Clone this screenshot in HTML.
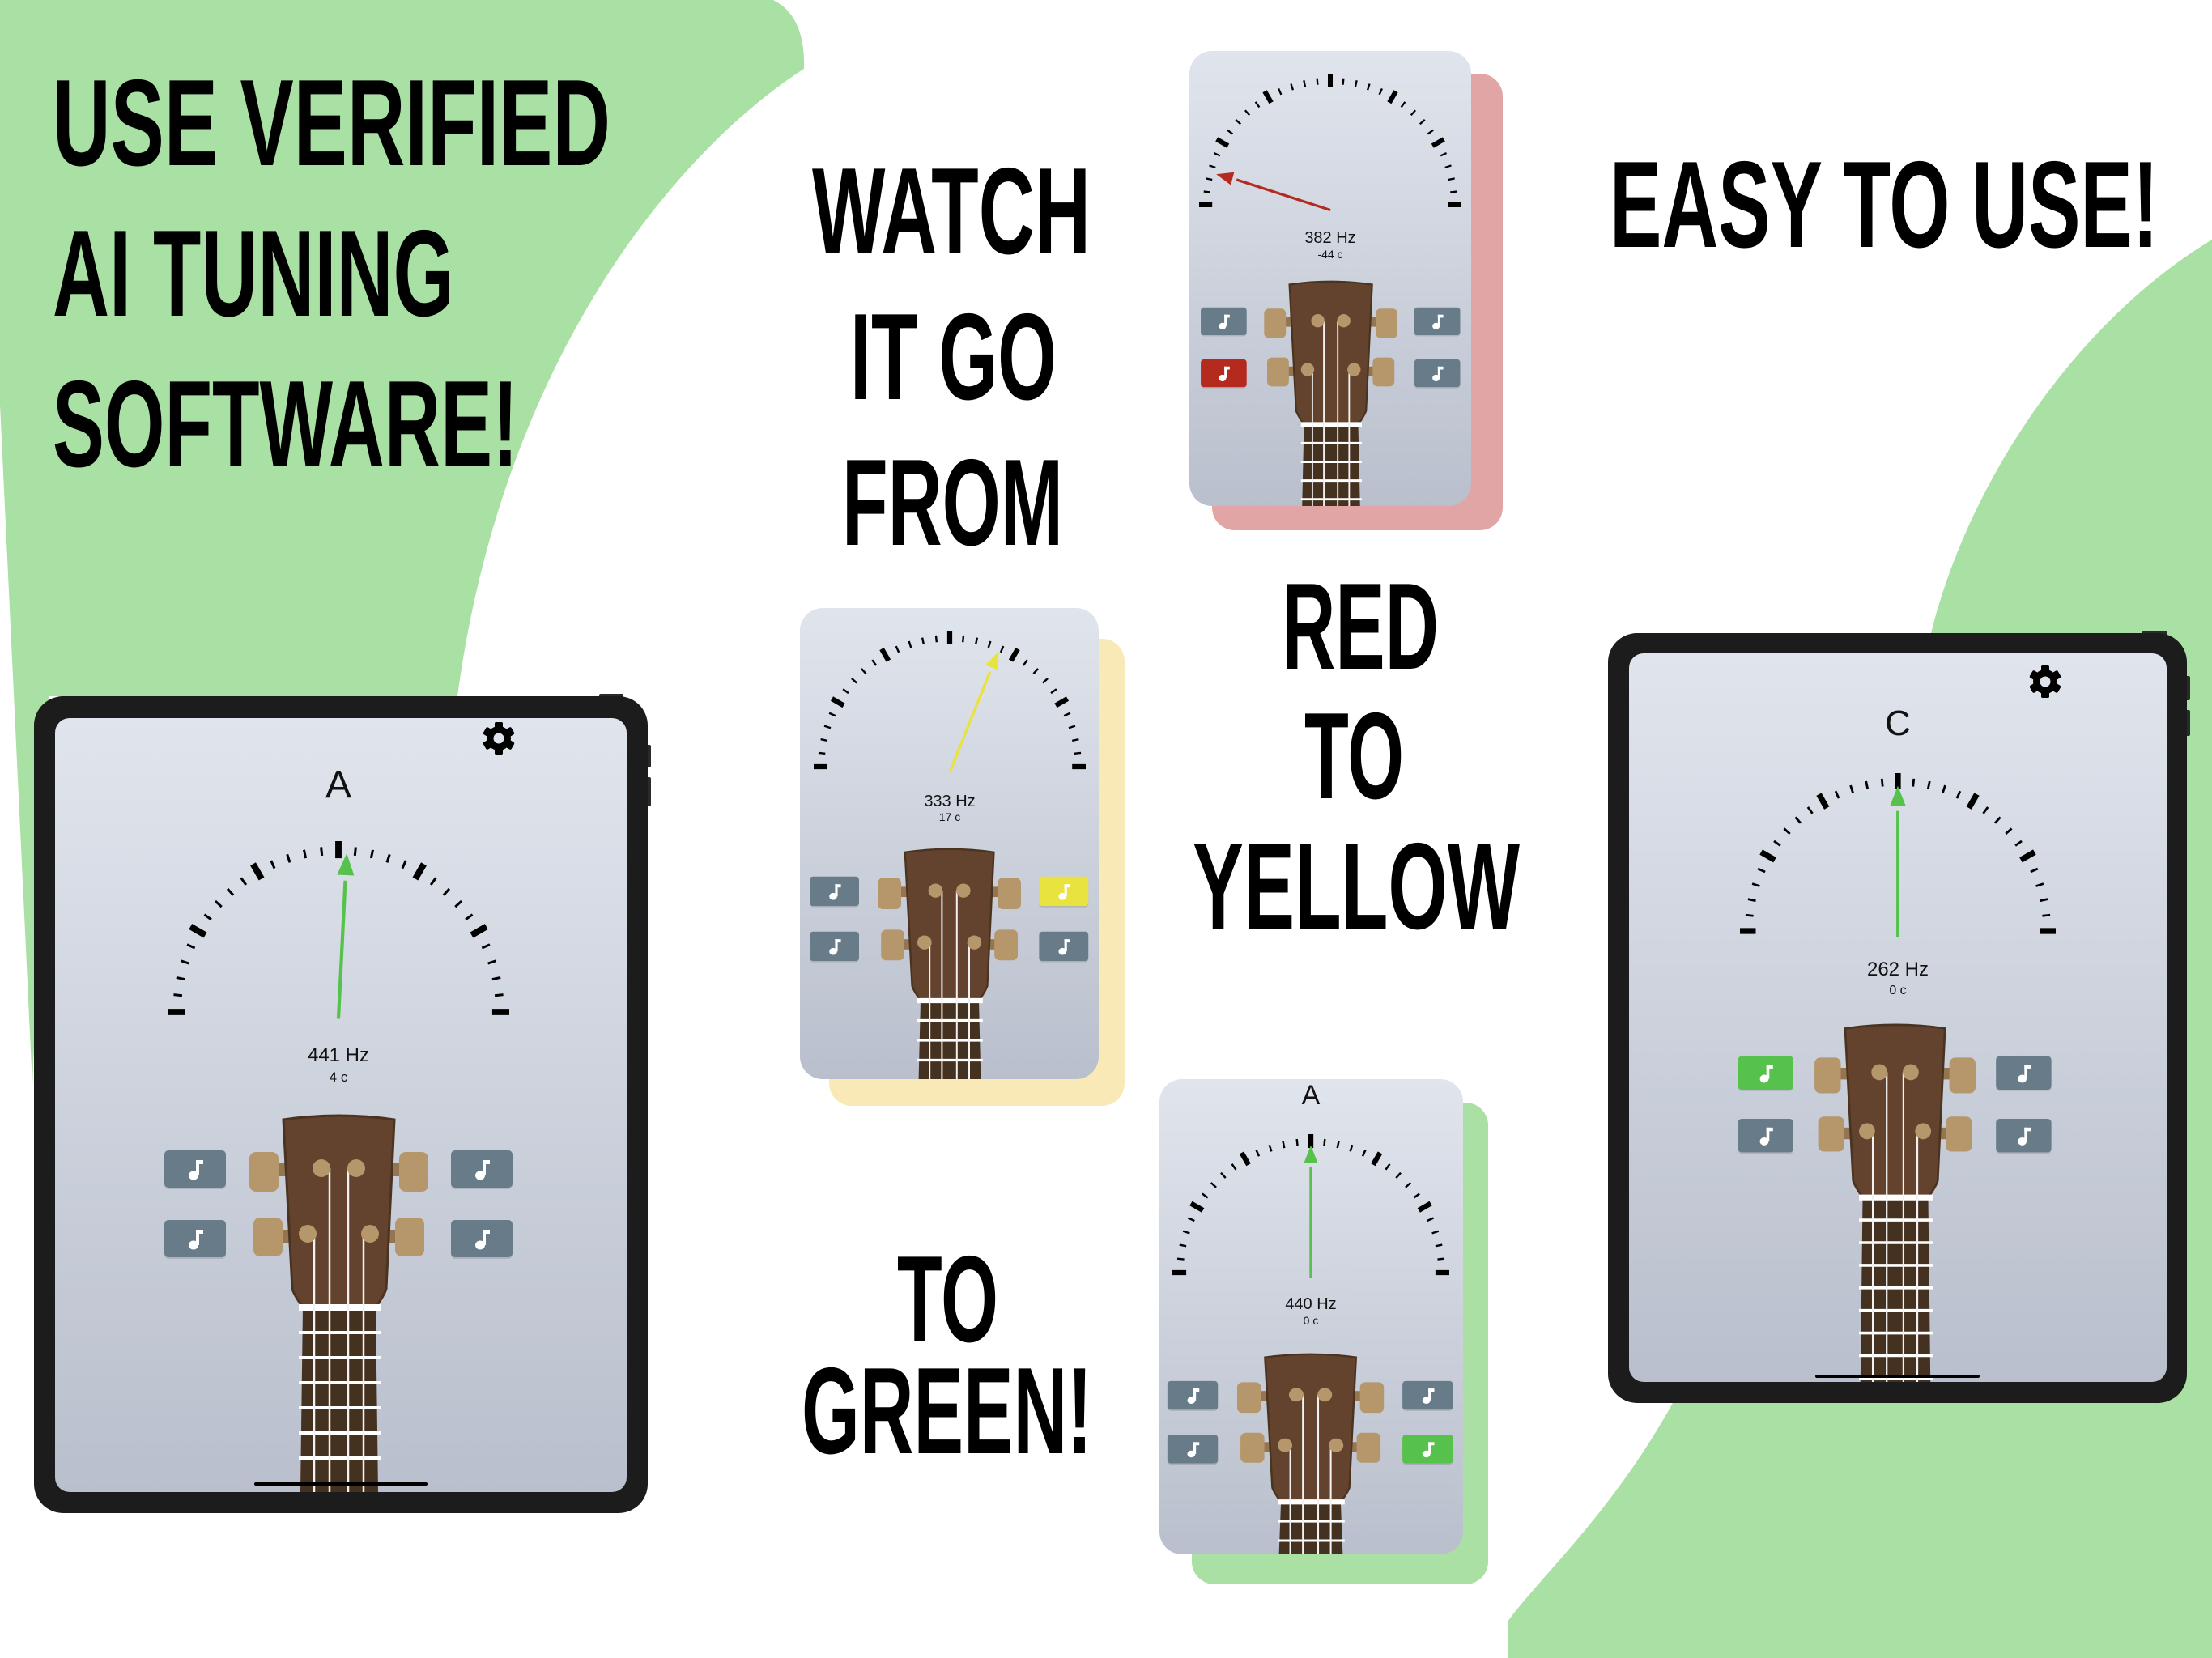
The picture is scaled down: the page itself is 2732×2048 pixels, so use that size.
<!DOCTYPE html>
<html><head><meta charset="utf-8">
<style>
html,body{margin:0;padding:0;background:#fff;width:2732px;height:2048px;overflow:hidden;}
svg{display:block;}
.big{font-family:"Liberation Sans",sans-serif;font-weight:bold;font-size:152px;fill:#000;}
.hz{font-family:"Liberation Sans",sans-serif;fill:#111;text-anchor:middle;}
</style></head>
<body>
<svg id="s" xmlns="http://www.w3.org/2000/svg" width="2732" height="2048" viewBox="0 0 2732 2048">
<defs>
<linearGradient id="scr" x1="0" y1="0" x2="0" y2="1">
<stop offset="0" stop-color="#e0e5ed"/><stop offset="1" stop-color="#b9bfcc"/>
</linearGradient>
<clipPath id="c1"><rect x="68" y="887" width="706" height="956" rx="18"/></clipPath>
<clipPath id="c2"><rect x="2012" y="807" width="664" height="900" rx="18"/></clipPath>
<clipPath id="c3"><rect x="1469" y="63" width="348" height="562" rx="28"/></clipPath>
<clipPath id="c4"><rect x="988" y="751" width="369" height="582" rx="28"/></clipPath>
<clipPath id="c5"><rect x="1432" y="1333" width="375" height="587" rx="28"/></clipPath>
</defs>

<path d="M0,0 L955,0 Q995,20 993,85 C830,190 620,450 565,860 L60,860 L40,1340 L0,500 Z" fill="#a9e0a3"/>
<path d="M2732,296 C2560,400 2430,600 2385,782 L2385,1733 L2066,1733 C1990,1870 1900,1950 1862,2003 L1862,2048 L2732,2048 Z" fill="#a9e0a3"/>

<text class="big" x="65" y="204" textLength="689" lengthAdjust="spacingAndGlyphs">USE VERIFIED</text>
<text class="big" x="65" y="390" textLength="496" lengthAdjust="spacingAndGlyphs">AI TUNING</text>
<text class="big" x="65" y="576" textLength="575" lengthAdjust="spacingAndGlyphs">SOFTWARE!</text>
<text class="big" x="1003" y="313" textLength="344" lengthAdjust="spacingAndGlyphs">WATCH</text>
<text class="big" x="1050" y="493" textLength="255" lengthAdjust="spacingAndGlyphs">IT GO</text>
<text class="big" x="1040" y="673" textLength="273" lengthAdjust="spacingAndGlyphs">FROM</text>
<text class="big" x="1988" y="305" textLength="678" lengthAdjust="spacingAndGlyphs">EASY TO USE!</text>
<text class="big" x="1583" y="826" textLength="194" lengthAdjust="spacingAndGlyphs">RED</text>
<text class="big" x="1611" y="986" textLength="123" lengthAdjust="spacingAndGlyphs">TO</text>
<text class="big" x="1473" y="1147" textLength="404" lengthAdjust="spacingAndGlyphs">YELLOW</text>
<text class="big" x="1108" y="1657" textLength="125" lengthAdjust="spacingAndGlyphs">TO</text>
<text class="big" x="990" y="1795" textLength="359" lengthAdjust="spacingAndGlyphs">GREEN!</text>

<rect x="1497" y="91" width="359" height="564" rx="28" fill="#e2a5a5"/>
<rect x="1024" y="789" width="365" height="577" rx="28" fill="#f8e9b7"/>
<rect x="1472" y="1362" width="366" height="595" rx="28" fill="#abe0a4"/>

<rect x="740" y="857" width="30" height="8" rx="2" fill="#2a2a2a"/>
<rect x="796" y="920" width="8" height="28" rx="2" fill="#2a2a2a"/>
<rect x="796" y="960" width="8" height="36" rx="2" fill="#2a2a2a"/>
<rect x="42" y="860" width="758" height="1009" rx="36" fill="#1c1c1c"/>
<rect x="68" y="887" width="706" height="956" rx="18" fill="url(#scr)"/>
<g id="g1" clip-path="url(#c1)"></g>
<text x="418" y="985" class="hz" font-size="48">A</text>
<g id="gear1"></g>
<text x="418" y="1311" class="hz" font-size="24">441 Hz</text>
<text x="418" y="1336" class="hz" font-size="17">4 c</text>
<rect x="314" y="1831" width="214" height="4" rx="2" fill="#000"/>

<rect x="2646" y="779" width="30" height="8" rx="2" fill="#2a2a2a"/>
<rect x="2697" y="835" width="8" height="30" rx="2" fill="#2a2a2a"/>
<rect x="2697" y="877" width="8" height="32" rx="2" fill="#2a2a2a"/>
<rect x="1986" y="782" width="715" height="951" rx="36" fill="#1c1c1c"/>
<rect x="2012" y="807" width="664" height="900" rx="18" fill="url(#scr)"/>
<g id="g2" clip-path="url(#c2)"></g>
<text x="2344" y="908" class="hz" font-size="44">C</text>
<g id="gear2"></g>
<text x="2344" y="1205" class="hz" font-size="24">262 Hz</text>
<text x="2344" y="1228" class="hz" font-size="16">0 c</text>
<rect x="2242" y="1698" width="203" height="4" rx="2" fill="#000"/>

<rect x="1469" y="63" width="348" height="562" rx="28" fill="url(#scr)"/>
<g id="g3" clip-path="url(#c3)"></g>
<text x="1643" y="300" class="hz" font-size="20">382 Hz</text>
<text x="1643" y="319" class="hz" font-size="14">-44 c</text>

<rect x="988" y="751" width="369" height="582" rx="28" fill="url(#scr)"/>
<g id="g4" clip-path="url(#c4)"></g>
<text x="1173" y="996" class="hz" font-size="20">333 Hz</text>
<text x="1173" y="1014" class="hz" font-size="14">17 c</text>

<rect x="1432" y="1333" width="375" height="587" rx="28" fill="url(#scr)"/>
<g id="g5" clip-path="url(#c5)"></g>
<text x="1619" y="1364" class="hz" font-size="34">A</text>
<text x="1619" y="1617" class="hz" font-size="20">440 Hz</text>
<text x="1619" y="1636" class="hz" font-size="14">0 c</text>
</svg>
<script>
var NS="http://www.w3.org/2000/svg";
function el(p,t,a){var e=document.createElementNS(NS,t);for(var k in a)e.setAttribute(k,a[k]);p.appendChild(e);return e;}
function gauge(p,cx,cy,R,ang,col,len){
  var sw=R/70;
  for(var i=-15;i<=15;i++){
    var a=i*6*Math.PI/180, maj=(i%5==0);
    var r1=maj?R*0.9:R*0.92, r2=maj?R:R*0.97;
    el(p,"line",{x1:cx+r1*Math.sin(a),y1:cy-r1*Math.cos(a),x2:cx+r2*Math.sin(a),y2:cy-r2*Math.cos(a),stroke:"#000","stroke-width":maj?sw*2.6:sw});
  }
  var a=ang*Math.PI/180, L=len*R, tx=cx+L*Math.sin(a), ty=cy-L*Math.cos(a);
  var h=R*0.16,w=R*0.05, bx=tx-h*Math.sin(a), by=ty+h*Math.cos(a);
  el(p,"line",{x1:cx,y1:cy+R*0.04,x2:bx,y2:by,stroke:col,"stroke-width":sw*1.4});
  var px=Math.cos(a),py=Math.sin(a);
  el(p,"polygon",{points:tx+","+ty+" "+(bx+w*px+h*0.2*Math.sin(a))+","+(by+w*py-h*0.2*Math.cos(a))+" "+(bx-w*px+h*0.2*Math.sin(a))+","+(by-w*py-h*0.2*Math.cos(a)),fill:col});
}
function gear(id,cx,cy){
  var g=document.getElementById(id);
  for(var i=0;i<6;i++){el(g,"rect",{x:cx-5,y:cy-20,width:10,height:40,rx:2,fill:"#000",transform:"rotate("+(i*60)+" "+cx+" "+cy+")"});}
  el(g,"circle",{cx:cx,cy:cy,r:15,fill:"#000"});
  el(g,"circle",{cx:cx,cy:cy,r:6.5,fill:"#dfe4ec"});
}
function btn(g,x,y,c){
  el(g,"rect",{x:x,y:y+2,width:76,height:46,rx:5,fill:"rgba(0,0,0,0.12)"});
  el(g,"rect",{x:x,y:y,width:76,height:46,rx:5,fill:c});
  var cx=x+38,cy=y+23;
  el(g,"ellipse",{cx:cx-2,cy:cy+8,rx:6,ry:5.5,fill:"#fff"});
  el(g,"rect",{x:cx+1,y:cy-11,width:4,height:19,fill:"#fff"});
  el(g,"rect",{x:cx+1,y:cy-11,width:9,height:5,fill:"#fff"});
}
function head(p,cx,top,sx_,sy_,cols,bottom){
  var E=(bottom-top)/sy_;
  var g=el(p,"g",{transform:"translate("+cx+","+top+") scale("+sx_+","+sy_+")"});
  btn(g,-216,44,cols[0]);btn(g,-216,130,cols[1]);btn(g,138,44,cols[2]);btn(g,138,130,cols[3]);
  var K="#b5976b",P="#957550";
  el(g,"rect",{x:-80,y:60,width:16,height:16,fill:P});el(g,"rect",{x:-74,y:142,width:16,height:16,fill:P});
  el(g,"rect",{x:62,y:60,width:16,height:16,fill:P});el(g,"rect",{x:58,y:142,width:16,height:16,fill:P});
  el(g,"rect",{x:-111,y:46,width:36,height:49,rx:8,fill:K});
  el(g,"rect",{x:-106,y:127,width:36,height:48,rx:8,fill:K});
  el(g,"rect",{x:74,y:46,width:36,height:49,rx:8,fill:K});
  el(g,"rect",{x:69,y:127,width:36,height:48,rx:8,fill:K});
  el(g,"path",{d:"M-69,6 Q0,-4 68,6 L58,215 Q56,222 45,238 L-45,238 Q-56,222 -58,215 Z",fill:"#63432e",stroke:"#4a3320","stroke-width":3});
  el(g,"path",{d:"M-45,238 L45,238 L48,"+E+" L-48,"+E+" Z",fill:"#45311f"});
  var pegs=[[-22,66],[21,66],[-39,147],[38,147]];
  for(var y=238;y<E-2;y+=31){el(g,"line",{x1:-50,y1:y,x2:51,y2:y,stroke:"#fff","stroke-width":y==238?8:4});}
  var sx=[-31,-12,11,30],order=[2,0,1,3];
  for(var i=0;i<4;i++){var pg=pegs[order[i]];el(g,"line",{x1:sx[i],y1:pg[1],x2:sx[i],y2:E,stroke:"#f2f2f2","stroke-width":2.5});}
  for(var i=0;i<4;i++)el(g,"circle",{cx:pegs[i][0],cy:pegs[i][1],r:11,fill:K});
}
var B="#687b89",G="#56c24b";
var g1=document.getElementById("g1");gauge(g1,418,1250,211,3,"#56c24b",0.93);head(g1,419,1377,1,1,[B,B,B,B],1843);
var g2=document.getElementById("g2");gauge(g2,2344,1150,195,0,"#56c24b",0.92);head(g2,2341,1265,0.9,0.9,[G,B,B,B],1707);
var g3=document.getElementById("g3");gauge(g3,1643,253,162,-75,"#b52a1f",0.9);head(g3,1644,347,0.745,0.745,[B,"#b52a1f",B,B],625);
var g4=document.getElementById("g4");gauge(g4,1173,947,168,23,"#e8e33f",0.92);head(g4,1173,1048,0.8,0.79,[B,B,"#e8e33f",B],1333);
var g5=document.getElementById("g5");gauge(g5,1619,1572,171,0,"#56c24b",0.92);head(g5,1619,1672,0.82,0.77,[B,B,B,G],1920);
gear("gear1",616,912);gear("gear2",2526,842);
</script>
</body></html>
